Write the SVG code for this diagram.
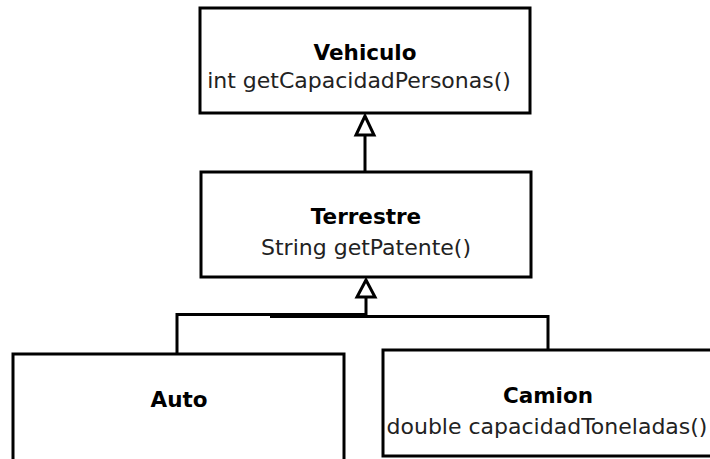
<svg xmlns="http://www.w3.org/2000/svg" width="710" height="459" viewBox="0 0 710 459">
<style>
.box{fill:#fff;stroke:#000;stroke-width:3}
.name{font-family:"DejaVu Sans",sans-serif;font-weight:bold;font-size:21.5px;fill:#000;text-anchor:middle}
.op{font-family:"DejaVu Sans",sans-serif;font-size:22px;fill:#222;text-anchor:middle}
.ln{fill:none;stroke:#000;stroke-width:3}
.tri{fill:#fff;stroke:#000;stroke-width:3;stroke-linejoin:miter}
</style>
<rect width="710" height="459" fill="#fff"/>
<g id="connectors">
<path class="ln" d="M365 135 V172"/>
<polygon class="tri" points="365,116 356,135 374,135"/>
<path class="ln" d="M177 354 V314.5 H366"/>
<path class="ln" d="M548 350 V316.5 H270"/>
<path class="ln" d="M366 297 V316"/>
<polygon class="tri" points="366,280 357,297 375,297"/>
</g>
<g id="vehiculo">
<rect class="box" x="200" y="8" width="330" height="105"/>
<text class="name" x="365" y="60">Vehiculo</text>
<text class="op" x="359" y="88">int getCapacidadPersonas()</text>
</g>
<g id="terrestre">
<rect class="box" x="201" y="172" width="330" height="105"/>
<text class="name" x="366" y="224">Terrestre</text>
<text class="op" x="366" y="255">String getPatente()</text>
</g>
<g id="auto">
<rect class="box" x="13" y="354" width="331" height="120"/>
<text class="name" x="179" y="407">Auto</text>
</g>
<g id="camion">
<rect class="box" x="383" y="350" width="331" height="106"/>
<text class="name" x="548" y="403">Camion</text>
<text class="op" x="547" y="434">double capacidadToneladas()</text>
</g>
</svg>
